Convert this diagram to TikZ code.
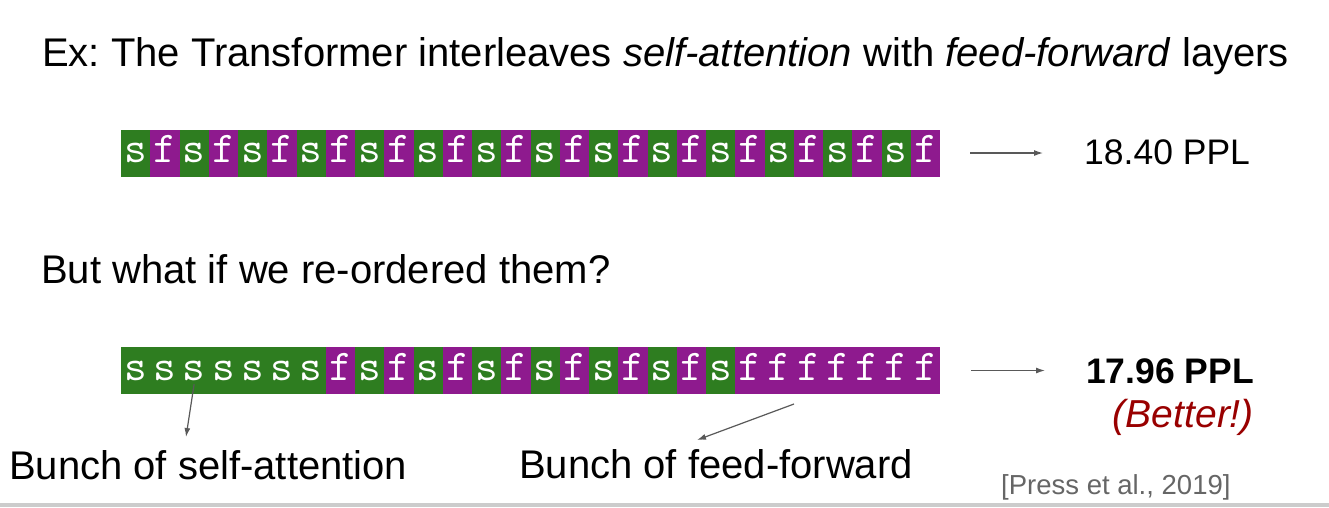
\documentclass[tikz,border=0pt]{standalone}
\usepackage{fontspec}
\setmainfont{Liberation Sans}
\usetikzlibrary{arrows.meta}
\frenchspacing

\definecolor{attngreen}{HTML}{2E7D20}
\definecolor{ffpurple}{HTML}{8E1A8E}
\definecolor{betterred}{HTML}{990000}
\definecolor{citegray}{HTML}{666666}
\definecolor{arrowgray}{HTML}{595959}

\tikzset{
  pointer/.style={draw=arrowgray,line width=1.2pt,-{Latex[length=9pt,width=6pt]}}
}

\begin{document}
\begin{tikzpicture}[x=1pt, y=-1pt]
        \tikzstyle{blk s}=[rectangle,fill=attngreen,text=white,inner sep=0pt,minimum width=29.25pt,minimum height=47pt,text height=19pt,text depth=0pt,font=\ttfamily\fontsize{44}{44}\selectfont]
        \tikzstyle{blk f}=[blk s,fill=ffpurple]
        \tikzstyle{big}=[inner sep=0pt,anchor=base west,font=\fontsize{40}{48}\selectfont]
        \tikzstyle{ppl}=[inner sep=0pt,anchor=base west,font=\fontsize{35.5}{42}\selectfont]

        \useasboundingbox (0,0) rectangle (1329,507);
        \fill[white] (0,0) rectangle (1329,507);
        \fill[black!20] (0,503) rectangle (1329,507);

        \node[big] (title) at (42,66) {Ex: The Transformer interleaves \textit{self-attention} with \textit{feed-forward} layers};

        % interleaved order
        \foreach \c [count=\i] in {s,f,s,f,s,f,s,f,s,f,s,f,s,f,s,f,s,f,s,f,s,f,s,f,s,f,s,f}
            \node[blk \c] (top-\i) at ({121+(\i-0.5)*29.25},153) {\c};
        \node[ppl] (ppl-top) at (1084,164) {18.40 PPL};
        \draw[pointer] ([xshift=30pt]top-28.east) -- ([xshift=-41pt]ppl-top.west |- top-28.east);

        \node[big] (question) at (41,283) {But what if we re-ordered them?};

        % sandwich order
        \foreach \c [count=\i] in {s,s,s,s,s,s,s,f,s,f,s,f,s,f,s,f,s,f,s,f,s,f,f,f,f,f,f,f}
            \node[blk \c] (bot-\i) at ({121+(\i-0.5)*29.25},370.5) {\c};
        \node[ppl,font=\bfseries\fontsize{35.5}{42}\selectfont] (ppl-bot) at (1086,383) {17.96 PPL};
        \node[ppl,anchor=base east,text=betterred,font=\itshape\fontsize{39}{46}\selectfont] (better) at (1254,427) {(Better!)};
        \draw[pointer] ([xshift=31pt]bot-28.east) -- ([xshift=-41pt]ppl-bot.west |- bot-28.east);

        \node[big] (self-lbl) at (9,479) {Bunch of self-attention};
        \node[big] (ff-lbl) at (519,478) {Bunch of feed-forward};
        \coordinate (self-tip) at (186,437);
        \coordinate (ff-tail) at (794,404);
        \coordinate (ff-tip) at (697,440);
        \draw[pointer] ([yshift=10pt]bot-3.south) -- (self-tip);
        \draw[pointer] (ff-tail) -- (ff-tip);

        \node[inner sep=0pt,anchor=base west,text=citegray,font=\fontsize{27.5}{33}\selectfont] (cite) at (1001,494) {[Press et al., 2019]};
    \end{tikzpicture}
\end{document}
